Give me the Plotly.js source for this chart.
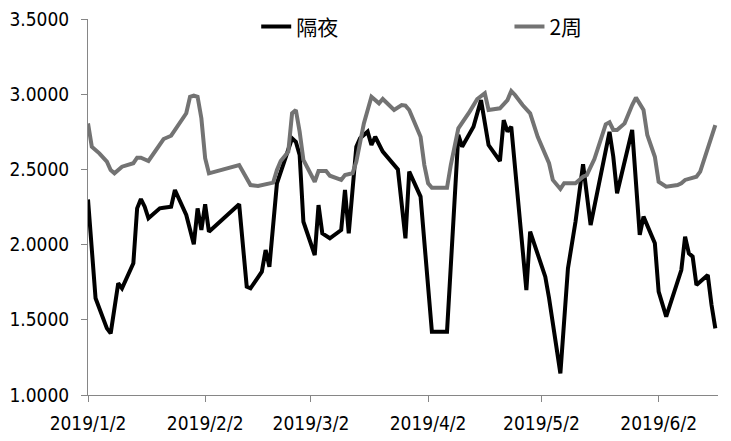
<!DOCTYPE html>
<html>
<head>
<meta charset="utf-8">
<script src="https://cdn.plot.ly/plotly-3.0.1.min.js"></script>
<style>html,body{margin:0;padding:0;background:#fff;}#chart{width:731px;height:441px;}</style>
</head>
<body>
<div id="chart"></div>
<script>
var seriesNames = ["隔夜", "2周"];

var overnightDates = ["2019-01-02","2019-01-04","2019-01-07","2019-01-08","2019-01-10","2019-01-11","2019-01-14","2019-01-15","2019-01-16","2019-01-17","2019-01-18","2019-01-21","2019-01-22","2019-01-24","2019-01-25","2019-01-28","2019-01-30","2019-01-31","2019-02-01","2019-02-02","2019-02-03","2019-02-11","2019-02-13","2019-02-14","2019-02-17","2019-02-18","2019-02-19","2019-02-21","2019-02-25","2019-02-26","2019-02-27","2019-02-28","2019-03-03","2019-03-04","2019-03-05","2019-03-07","2019-03-10","2019-03-11","2019-03-12","2019-03-14","2019-03-15","2019-03-17","2019-03-18","2019-03-19","2019-03-21","2019-03-25","2019-03-27","2019-03-28","2019-03-31","2019-04-03","2019-04-07","2019-04-10","2019-04-11","2019-04-14","2019-04-16","2019-04-18","2019-04-21","2019-04-22","2019-04-23","2019-04-24","2019-04-28","2019-04-29","2019-05-03","2019-05-04","2019-05-07","2019-05-09","2019-05-11","2019-05-13","2019-05-15","2019-05-20","2019-05-21","2019-05-22","2019-05-26","2019-05-28","2019-05-29","2019-06-01","2019-06-02","2019-06-04","2019-06-08","2019-06-09","2019-06-10","2019-06-11","2019-06-12","2019-06-15","2019-06-16","2019-06-17"];
var overnightValues = [2.300,1.643,1.443,1.410,1.743,1.709,1.876,2.241,2.303,2.252,2.175,2.241,2.245,2.252,2.363,2.197,2.002,2.241,2.097,2.268,2.086,2.268,1.720,1.709,1.820,1.964,1.853,2.408,2.707,2.684,2.596,2.152,1.931,2.263,2.075,2.042,2.097,2.363,2.075,2.651,2.707,2.751,2.662,2.717,2.618,2.500,2.042,2.485,2.319,1.421,1.421,2.729,2.651,2.784,2.961,2.662,2.556,2.828,2.751,2.784,1.698,2.086,1.787,1.645,1.144,1.842,2.152,2.534,2.130,2.750,2.584,2.341,2.762,2.064,2.186,2.009,1.687,1.521,1.831,2.053,1.942,1.920,1.731,1.798,1.598,1.443];

var twoWeekDates = ["2019-01-02","2019-01-03","2019-01-05","2019-01-07","2019-01-08","2019-01-09","2019-01-11","2019-01-14","2019-01-15","2019-01-16","2019-01-18","2019-01-20","2019-01-22","2019-01-24","2019-01-28","2019-01-29","2019-01-30","2019-01-31","2019-02-01","2019-02-02","2019-02-03","2019-02-11","2019-02-12","2019-02-14","2019-02-16","2019-02-19","2019-02-20","2019-02-21","2019-02-22","2019-02-24","2019-02-25","2019-02-26","2019-02-27","2019-02-28","2019-03-03","2019-03-04","2019-03-06","2019-03-07","2019-03-10","2019-03-11","2019-03-13","2019-03-14","2019-03-16","2019-03-18","2019-03-20","2019-03-21","2019-03-24","2019-03-26","2019-03-27","2019-03-28","2019-03-31","2019-04-01","2019-04-02","2019-04-03","2019-04-07","2019-04-08","2019-04-10","2019-04-13","2019-04-15","2019-04-17","2019-04-18","2019-04-21","2019-04-23","2019-04-24","2019-04-25","2019-04-27","2019-04-29","2019-05-01","2019-05-04","2019-05-05","2019-05-07","2019-05-08","2019-05-11","2019-05-13","2019-05-14","2019-05-16","2019-05-19","2019-05-20","2019-05-21","2019-05-22","2019-05-24","2019-05-26","2019-05-27","2019-05-29","2019-05-30","2019-06-01","2019-06-02","2019-06-04","2019-06-07","2019-06-08","2019-06-09","2019-06-12","2019-06-13","2019-06-17"];
var twoWeekValues = [2.806,2.651,2.607,2.551,2.496,2.474,2.518,2.541,2.578,2.578,2.556,2.629,2.702,2.724,2.873,2.983,2.990,2.983,2.840,2.574,2.474,2.529,2.481,2.396,2.390,2.403,2.412,2.496,2.556,2.618,2.873,2.895,2.751,2.563,2.418,2.489,2.489,2.458,2.430,2.463,2.474,2.551,2.806,2.983,2.939,2.968,2.895,2.928,2.924,2.895,2.717,2.529,2.408,2.378,2.378,2.529,2.773,2.884,2.968,3.006,2.895,2.906,2.961,3.021,2.995,2.928,2.873,2.717,2.541,2.430,2.370,2.408,2.408,2.451,2.463,2.569,2.800,2.813,2.762,2.762,2.806,2.928,2.977,2.895,2.729,2.584,2.418,2.385,2.396,2.408,2.430,2.451,2.485,2.795];

var xTickDates = ["2019-01-02","2019-02-02","2019-03-02","2019-04-02","2019-05-02","2019-06-02"];
var xTickLabels = ["2019/1/2","2019/2/2","2019/3/2","2019/4/2","2019/5/2","2019/6/2"];
var yTickValues = [1.0,1.5,2.0,2.5,3.0,3.5];

var tickFont = {family: "Liberation Sans Narrow, DejaVu Sans Condensed, sans-serif", size: 19, color: "#000"};
var legendFont = {family: "Noto Sans CJK SC, sans-serif", size: 21, color: "#000"};

var traces = [
  {x: overnightDates, y: overnightValues, name: seriesNames[0], type: "scatter", mode: "lines",
   legend: "legend", line: {color: "#000000", width: 4, shape: "linear"}},
  {x: twoWeekDates, y: twoWeekValues, name: seriesNames[1], type: "scatter", mode: "lines",
   legend: "legend2", line: {color: "#737373", width: 4, shape: "linear"}}
];

var layout = {
  width: 731, height: 441,
  margin: {l: 88, r: 13, t: 19, b: 46, pad: 0, autoexpand: false},
  paper_bgcolor: "#fff", plot_bgcolor: "#fff",
  showlegend: true,
  legend: {orientation: "h", x: 0.267, xanchor: "left", y: 0.979, yanchor: "middle",
           font: legendFont, bgcolor: "rgba(0,0,0,0)"},
  legend2: {orientation: "h", x: 0.669, xanchor: "left", y: 0.979, yanchor: "middle",
           font: legendFont, bgcolor: "rgba(0,0,0,0)"},
  xaxis: {type: "date", range: ["2019-01-02", "2019-06-17 17:00"],
          tickvals: xTickDates, ticktext: xTickLabels,
          showline: true, linecolor: "#868686", linewidth: 1,
          ticks: "outside", ticklen: 6, tickcolor: "#868686", ticklabelstandoff: 5,
          showgrid: false, zeroline: false, tickfont: tickFont, fixedrange: true},
  yaxis: {range: [1, 3.5], tickvals: yTickValues, tickformat: ".4f",
          showline: true, linecolor: "#868686", linewidth: 1,
          ticks: "outside", ticklen: 6, tickcolor: "#868686", ticklabelstandoff: 8,
          showgrid: false, zeroline: false, tickfont: tickFont, fixedrange: true}
};

Plotly.newPlot("chart", traces, layout, {displayModeBar: false, staticPlot: true});
</script>
</body>
</html>
